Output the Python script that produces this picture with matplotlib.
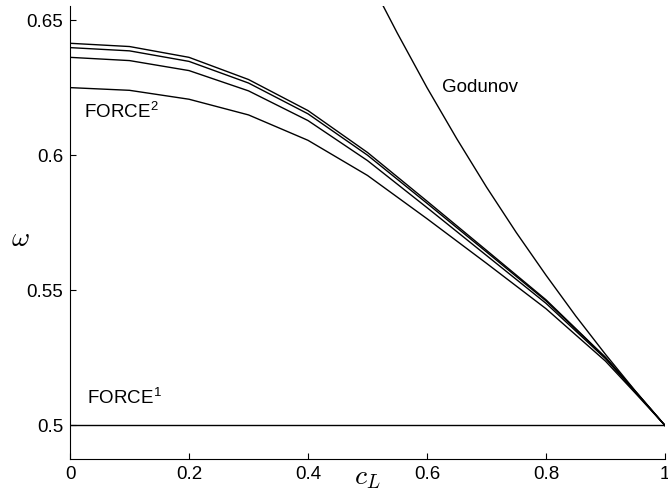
import matplotlib
matplotlib.use("Agg")
import matplotlib.pyplot as plt

# Courant number grid for the FORCE^k curves
c_force = [0.0, 0.1, 0.2, 0.3, 0.4, 0.5, 0.6, 0.7, 0.8, 0.9, 0.95, 1.0]

# omega (lowest curve is FORCE^2)
omega_force2 = [0.6250, 0.6240, 0.6207, 0.6149, 0.6055, 0.5925, 0.5765, 0.5600, 0.5432, 0.5238, 0.5120, 0.5000]
omega_force3 = [0.6362, 0.6350, 0.6313, 0.6238, 0.6128, 0.5980, 0.5806, 0.5629, 0.5452, 0.5247, 0.5124, 0.5000]
omega_force4 = [0.6398, 0.6386, 0.6347, 0.6267, 0.6153, 0.6000, 0.5822, 0.5642, 0.5461, 0.5251, 0.5126, 0.5000]
omega_force5 = [0.6414, 0.6402, 0.6362, 0.6280, 0.6165, 0.6010, 0.5830, 0.5648, 0.5465, 0.5252, 0.5127, 0.5000]

# Godunov curve
c_god = [0.52, 0.55, 0.60, 0.65, 0.70, 0.75, 0.80, 0.85, 0.90, 0.95, 1.00]
omega_god = [0.6579, 0.6452, 0.6250, 0.6061, 0.5882, 0.5714, 0.5556, 0.5405, 0.5263, 0.5128, 0.5000]

# FORCE^1 is flat
c_force1 = [0.0, 1.0]
omega_force1 = [0.5, 0.5]

xticks = [0, 0.2, 0.4, 0.6, 0.8, 1]
xticklabels = ["0", "0.2", "0.4", "0.6", "0.8", "1"]
yticks = [0.5, 0.55, 0.6, 0.65]
yticklabels = ["0.5", "0.55", "0.6", "0.65"]

plt.rcParams['font.family'] = ['Liberation Sans', 'DejaVu Sans']
plt.rcParams['mathtext.fontset'] = 'cm'

fig = plt.figure(figsize=(6.68, 4.91), dpi=100)
ax = fig.add_axes([0.1048, 0.0652, 0.8907, 0.9226])

for om in (omega_force2, omega_force3, omega_force4, omega_force5):
    ax.plot(c_force, om, color='black', lw=1.0)
ax.plot(c_god, omega_god, color='black', lw=1.0)
ax.plot(c_force1, omega_force1, color='black', lw=1.0)

ax.set_xlim(0, 1)
ax.set_ylim(0.4876, 0.6552)
ax.set_xticks(xticks)
ax.set_xticklabels(xticklabels)
ax.set_yticks(yticks)
ax.set_yticklabels(yticklabels)
ax.tick_params(direction='in', length=4, width=0.8, labelsize=13.5, pad=5)

ax.spines['top'].set_visible(False)
ax.spines['right'].set_visible(False)

ax.text(0.0235, 0.6137, r'FORCE$^{\mathregular{2}}$', fontsize=13.5)
ax.text(0.029, 0.5079, r'FORCE$^{\mathregular{1}}$', fontsize=13.5)
ax.text(0.625, 0.6234, 'Godunov', fontsize=13.5)

# axis labels placed by baseline so they sit like the reference
fig.text(367 / 668, 1 - 484 / 491, r'$c_L$', fontsize=20, ha='center', va='baseline')
fig.text(20 / 668, 1 - 246 / 491, r'$\omega$', fontsize=20, ha='center', va='baseline')

fig.savefig('out.png', dpi=100)
